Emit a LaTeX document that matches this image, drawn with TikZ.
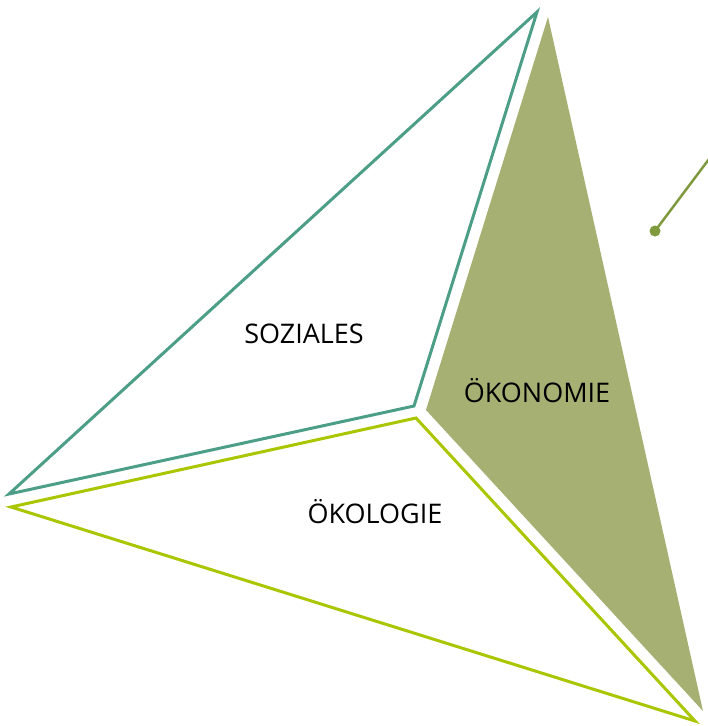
\documentclass[tikz,border=0pt]{standalone}
\usepackage{fontspec}
\setmainfont{Open Sans}
\usetikzlibrary{positioning}
\definecolor{sozteal}{HTML}{4C9E86}
\definecolor{okoolive}{HTML}{A6B073}
\definecolor{okolime}{HTML}{AAC600}
\definecolor{pinolive}{HTML}{7F9A3D}
\tikzset{
corner/.style={inner sep=0pt, minimum size=0pt},
label text/.style={font=\fontsize{27}{32}\selectfont, text=black, anchor=base},
}

\begin{document}
\begin{tikzpicture}[x=1pt, y=-1pt]
    \useasboundingbox (0,0) rectangle (708,726);

    %soziales corners
    \coordinate (s1) at (537,12);
    \coordinate (s2) at (414,406);
    \coordinate (s3) at (9,494);

    %oekonomie corners
    \coordinate (k1) at (548,17);
    \coordinate (k2) at (426,410);
    \coordinate (k3) at (703,711);

    %oekologie corners
    \coordinate (l1) at (416,418);
    \coordinate (l2) at (11,507);
    \coordinate (l3) at (695,721);

    %triangles
    \fill[okoolive] (k1)--(k2)--(k3)--cycle;
    \draw[sozteal, line width=3pt, line join=miter] (s1)--(s2)--(s3)--cycle;
    \draw[okolime, line width=3pt, line join=miter] (l1)--(l2)--(l3)--cycle;

    %pointer
    \node[circle, fill=pinolive, minimum size=11pt, inner sep=0pt] (pin) at (655,231) { };
    \coordinate (pinend) at (712,155);
    \draw[pinolive, line width=2.5pt] (pin.center)--(pinend);

    %labels
    \node[label text] (soz) at (304,343) {SOZIALES};
    \node[label text] (oko) at (537,402) {ÖKONOMIE};
    \node[label text] (olo) at (375,523) {ÖKOLOGIE};
\end{tikzpicture}
\end{document}
